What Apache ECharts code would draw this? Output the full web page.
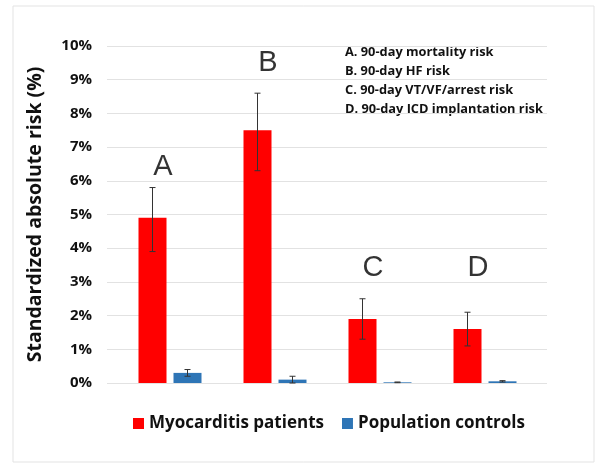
<!DOCTYPE html>
<html>
<head>
    <meta charset="utf-8">
    <title>Myocarditis risk</title>
    <script src="https://cdn.jsdelivr.net/npm/echarts@6/dist/echarts.min.js"></script>
    <style>
        html, body { margin: 0; padding: 0; background: #fff; }
        #chart { width: 595px; height: 464px; }
    </style>
</head>
<body>
<div id="chart"></div>
<script>
    // 数据
    var categories = ['A', 'B', 'C', 'D'];
    var seriesNames = ['Myocarditis patients', 'Population controls'];
    var patients = [4.9, 7.5, 1.9, 1.6];
    var patientsLow = [3.9, 6.3, 1.3, 1.1];
    var patientsHigh = [5.8, 8.6, 2.5, 2.1];
    var controls = [0.3, 0.1, 0.02, 0.05];
    var controlsLow = [0.2, 0.0, 0.01, 0.03];
    var controlsHigh = [0.4, 0.2, 0.03, 0.07];
    var letterLevel = [6.4, 9.5, 3.4, 3.4];
    var notes = [
        'A. 90-day mortality risk',
        'B. 90-day HF risk',
        'C. 90-day VT/VF/arrest risk',
        'D. 90-day ICD implantation risk'
    ];

    var font = '"Open Sans", Lato, sans-serif';
    var chart = echarts.init(document.getElementById('chart'));

    // 误差线
    function errorBar(low, high, shift) {
        return function (params, api) {
            var i = api.value(0);
            var p1 = api.coord([i, low[i]]);
            var p2 = api.coord([i, high[i]]);
            var x = p1[0] + shift;
            var style = {stroke: '#333', lineWidth: 1};
            return {
                type: 'group',
                children: [
                    {type: 'line', shape: {x1: x, y1: p1[1], x2: x, y2: p2[1]}, style: style},
                    {type: 'line', shape: {x1: x - 3, y1: p1[1], x2: x + 3, y2: p1[1]}, style: style},
                    {type: 'line', shape: {x1: x - 3, y1: p2[1], x2: x + 3, y2: p2[1]}, style: style}
                ]
            };
        };
    }

    var option = {
        animation: false,
        graphic: [
            {type: 'rect', shape: {x: 13, y: 6, width: 581, height: 456},
                style: {fill: 'none', stroke: '#e3e3e3', lineWidth: 1}},
            {type: 'text', left: 345, top: 43,
                style: {text: notes.join('\n'), font: 'bold 12.8px ' + font, fill: '#111', lineHeight: 19}}
        ],
        legend: {
            data: seriesNames,
            left: 128, top: 410,
            icon: 'rect', itemWidth: 11, itemHeight: 11, itemGap: 18,
            textStyle: {fontFamily: font, fontWeight: 'bold', fontSize: 17, color: '#111'}
        },
        grid: [
            {left: 107, right: 48, top: 46, height: 337},
            {left: 117.5, width: 420, top: 46, height: 337}
        ],
        xAxis: [
            {gridIndex: 0, type: 'value', min: 0, max: 1, show: false},
            {gridIndex: 1, type: 'category', data: categories, show: false}
        ],
        yAxis: [
            {
                gridIndex: 0, type: 'value', min: 0, max: 10, interval: 1,
                name: 'Standardized absolute risk (%)', nameLocation: 'middle', nameGap: 62,
                nameTextStyle: {fontFamily: font, fontWeight: 'bold', fontSize: 19.5, color: '#111'},
                axisLine: {show: false}, axisTick: {show: false},
                axisLabel: {formatter: '{value}%', margin: 15, fontFamily: font, fontWeight: 'bold', fontSize: 15, color: '#111'},
                splitLine: {lineStyle: {color: '#e2e2e2', width: 1}}
            },
            {gridIndex: 1, type: 'value', min: 0, max: 10, show: false}
        ],
        series: [
            {
                name: seriesNames[0], type: 'bar', xAxisIndex: 1, yAxisIndex: 1,
                data: patients, barWidth: 28, barGap: '25%',
                itemStyle: {color: '#ff0000'}
            },
            {
                name: seriesNames[1], type: 'bar', xAxisIndex: 1, yAxisIndex: 1,
                data: controls, barWidth: 28,
                itemStyle: {color: '#2e75b6'}
            },
            {
                type: 'custom', xAxisIndex: 1, yAxisIndex: 1, z: 5,
                data: categories.map(function (c, i) { return [i]; }),
                renderItem: errorBar(patientsLow, patientsHigh, -17.5)
            },
            {
                type: 'custom', xAxisIndex: 1, yAxisIndex: 1, z: 5,
                data: categories.map(function (c, i) { return [i]; }),
                renderItem: errorBar(controlsLow, controlsHigh, 17.5)
            },
            {
                type: 'scatter', xAxisIndex: 1, yAxisIndex: 1, symbolSize: 0,
                data: letterLevel.map(function (v, i) { return [i, v]; }),
                label: {
                    show: true, position: 'inside', offset: [-7, 0],
                    formatter: function (p) { return categories[p.dataIndex]; },
                    fontFamily: '"Liberation Sans", Arial, sans-serif', fontSize: 29, color: '#000'
                }
            }
        ]
    };
    chart.setOption(option);
</script>
</body>
</html>
